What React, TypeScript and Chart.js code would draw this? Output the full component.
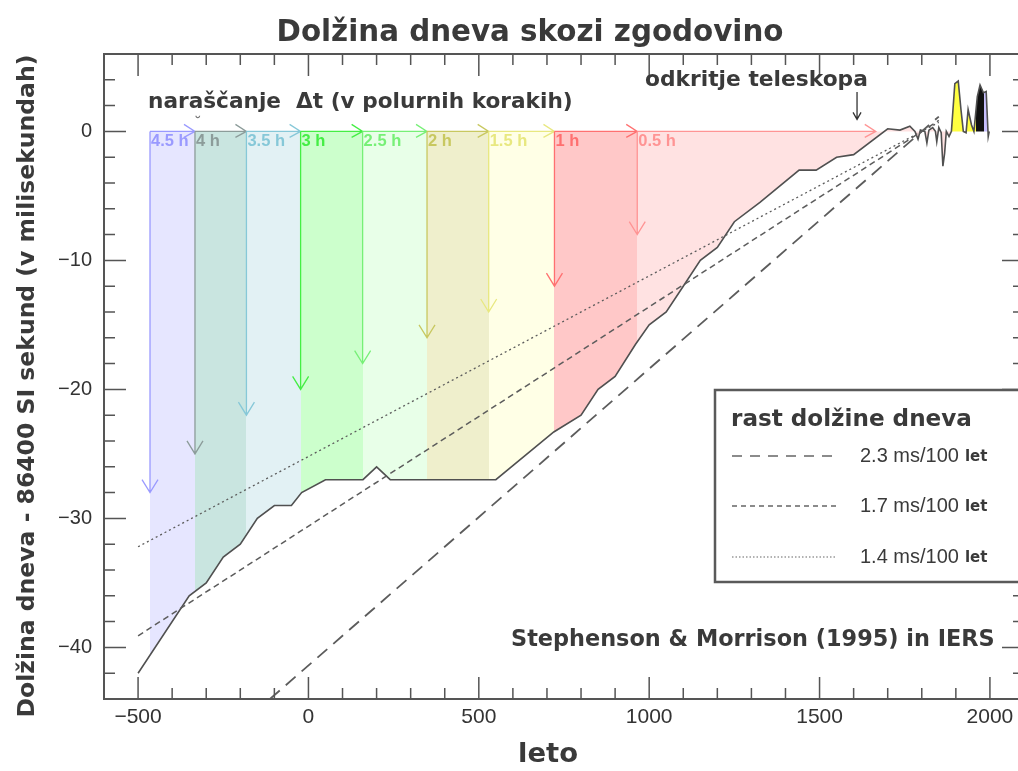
import React, { useEffect, useRef } from 'react';
import { Chart, registerables } from 'chart.js';

Chart.register(...registerables);

// ---------------- data ----------------
const curveYears = [-500, -350, -300, -250, -200, -150, -100, -50, -20, 50, 160, 200, 240, 550, 720, 800, 850, 900, 960, 1000, 1050, 1100, 1150, 1200, 1250, 1325, 1440, 1490, 1550, 1600, 1700, 1736, 1765, 1780, 1789, 1796, 1809, 1815, 1821, 1832, 1840, 1844, 1850, 1857, 1862, 1867, 1872, 1880, 1887, 1897, 1907, 1915, 1922, 1930, 1936, 1946, 1953, 1963, 1971, 1981, 1989, 1995, 1998];
const curveMs = [-42, -36, -35, -33, -32, -30, -29, -29, -28, -27, -27, -26, -27, -27, -23.3, -22, -20, -19, -16.5, -15, -14, -12, -10, -9, -7, -5.5, -3, -3, -2, -1.8, 0.2, 0.1, 0.4, 0, -0.6, 0.1, 0, -0.9, 0.1, 0.3, 0, -0.8, 0.3, -0.1, -2.7, -1.7, 0, -0.4, 0, 3.7, 3.9, 1.7, 0, -0.1, 1.7, 0.5, 0, 2.7, 3.6, 3.0, 3.1, -0.4, 0];

const bandLabels = ['4.5 h', '4 h', '3.5 h', '3 h', '2.5 h', '2 h', '1.5 h', '1 h', '0.5 h'];
const bandStarts = [-465, -333, -182, -23, 159, 348, 529, 722, 965];
const bandEnds = [-333, -182, -23, 159, 348, 529, 722, 965, 1665];
const bandArrowTips = [-28, -25, -22, -20, -18, -16, -14, -12, -8];

// recent-era fill segments (after the 0.5 h band)
const recentStarts = [1890, 1958, 1982];
const recentEnds = [1958, 1982, 2000];

const trend23Years = [-113, 1850];
const trend23Ms = [-44, 1.15];
const trend17Years = [-500, 1850];
const trend17Ms = [-39.1, 0.85];
const trend14Years = [-500, 1850];
const trend14Ms = [-32.2, 0.7];
const trendLabels = ['2.3 ms/100', '1.7 ms/100', '1.4 ms/100'];

const telescopeYear = 1610;

const xTickValues = [-500, 0, 500, 1000, 1500, 2000];
const xTickLabels = ['−500', '0', '500', '1000', '1500', '2000'];
const yTickValues = [0, -10, -20, -30, -40];
const yTickLabels = ['0', '−10', '−20', '−30', '−40'];

// ---------------- styles ----------------
const bandFill = ['#e6e6ff', '#c9e5e0', '#e2f1f4', '#ccffcc', '#e8ffe8', '#efefcc', '#ffffe6', '#ffc8c8', '#ffe2e2'];
const bandInk = ['#9a9aff', '#8c9c9a', '#86c8d8', '#44ee44', '#77f077', '#c8c860', '#e8e880', '#ff7070', '#ff9494'];
const recentFill = ['#ffff40', '#111111', '#c8c0ff'];

const COMIC = '"DejaVu Sans", sans-serif';
const HELV = '"Liberation Sans", Arial, sans-serif';
const INK = '#3a3a3a';
const LINE = '#555555';

function fitText(ctx: CanvasRenderingContext2D, text: string, x: number, y: number, width: number, weight: string, family: string, align: CanvasTextAlign = 'left') {
  ctx.font = `${weight} 40px ${family}`;
  const w = ctx.measureText(text).width;
  const size = (40 * width) / w;
  ctx.font = `${weight} ${size.toFixed(2)}px ${family}`;
  ctx.textAlign = align;
  ctx.textBaseline = 'middle';
  ctx.fillText(text, x, y);
}

function makeFill(chart: any) {
  const area = chart.chartArea;
  const xs = chart.scales?.x;
  if (!area || !xs) return 'rgba(0,0,0,0)';
  const g = chart.ctx.createLinearGradient(area.left, 0, area.right, 0);
  const w = area.right - area.left;
  const T = (yr: number) => Math.min(1, Math.max(0, (xs.getPixelForValue(yr) - area.left) / w));
  const starts = bandStarts.concat(recentStarts);
  const ends = bandStarts.slice(1).concat(recentStarts).concat([recentEnds[recentEnds.length - 1]]);
  const cols = bandFill.concat(recentFill);
  const clear = 'rgba(255,255,255,0)';
  g.addColorStop(0, clear);
  g.addColorStop(T(starts[0]), clear);
  for (let i = 0; i < starts.length; i++) {
    g.addColorStop(T(starts[i]), cols[i]);
    g.addColorStop(T(ends[i]), cols[i]);
  }
  g.addColorStop(T(ends[ends.length - 1]), clear);
  g.addColorStop(1, clear);
  return g;
}

const decoPlugin = {
  id: 'deco',
  beforeDraw(chart: any) {
    const ctx = chart.ctx;
    ctx.save();
    ctx.fillStyle = '#ffffff';
    ctx.fillRect(0, 0, chart.width, chart.height);
    ctx.restore();
  },
  afterDatasetsDraw(chart: any) {
    const ctx = chart.ctx as CanvasRenderingContext2D;
    const xs = chart.scales.x;
    const ys = chart.scales.y;
    const y0 = ys.getPixelForValue(0);
    ctx.save();
    for (let i = 0; i < bandStarts.length; i++) {
      const xa = xs.getPixelForValue(bandStarts[i]);
      const xb = xs.getPixelForValue(bandEnds[i]);
      const yt = ys.getPixelForValue(bandArrowTips[i]);
      ctx.strokeStyle = bandInk[i];
      ctx.lineWidth = 1.3;
      ctx.setLineDash([]);
      // top edge + right arrow
      ctx.beginPath();
      ctx.moveTo(xa, y0);
      ctx.lineTo(xb, y0);
      ctx.moveTo(xb - 11, y0 - 7);
      ctx.lineTo(xb, y0);
      ctx.lineTo(xb - 11, y0 + 6);
      ctx.stroke();
      // vertical arrow
      ctx.beginPath();
      ctx.moveTo(xa, y0);
      ctx.lineTo(xa, yt);
      ctx.moveTo(xa - 8, yt - 13);
      ctx.lineTo(xa, yt);
      ctx.lineTo(xa + 8, yt - 13);
      ctx.stroke();
      ctx.fillStyle = bandInk[i];
      ctx.font = `bold 16.5px ${HELV}`;
      ctx.textAlign = 'left';
      ctx.textBaseline = 'middle';
      ctx.fillText(bandLabels[i], xa + 1, y0 + 10);
    }
    ctx.fillStyle = '#777';
    ctx.font = `bold 14px ${HELV}`;
    ctx.textAlign = 'center';
    ctx.fillText('˘', xs.getPixelForValue(bandStarts[1]) + 3, y0 - 8);
    ctx.restore();
  },
  afterDraw(chart: any) {
    const ctx = chart.ctx as CanvasRenderingContext2D;
    const xs = chart.scales.x;
    const ys = chart.scales.y;
    const a = chart.chartArea;
    ctx.save();
    ctx.setLineDash([]);
    ctx.strokeStyle = LINE;
    ctx.lineWidth = 2;
    ctx.strokeRect(a.left, a.top, a.right - a.left, a.bottom - a.top);
    ctx.lineWidth = 1.5;
    ctx.beginPath();
    for (const t of xs.ticks) {
      const v = t.value;
      const len = v % 500 === 0 ? 22 : 11;
      const px = xs.getPixelForValue(v);
      ctx.moveTo(px, a.bottom);
      ctx.lineTo(px, a.bottom - len);
      ctx.moveTo(px, a.top);
      ctx.lineTo(px, a.top + len);
    }
    for (const t of ys.ticks) {
      const v = t.value;
      const len = v % 10 === 0 ? 22 : 11;
      const py = ys.getPixelForValue(v);
      ctx.moveTo(a.left, py);
      ctx.lineTo(a.left + len, py);
      ctx.moveTo(a.right, py);
      ctx.lineTo(a.right - len, py);
    }
    ctx.stroke();

    ctx.fillStyle = INK;
    fitText(ctx, 'Dolžina dneva skozi zgodovino', 530, 33, 507, 'bold', COMIC, 'center');
    fitText(ctx, 'leto', 548, 755, 60, 'bold', COMIC, 'center');
    ctx.save();
    ctx.translate(28, 386);
    ctx.rotate(-Math.PI / 2);
    fitText(ctx, 'Dolžina dneva - 86400 SI sekund (v milisekundah)', 0, 0, 663, 'bold', COMIC, 'center');
    ctx.restore();
    fitText(ctx, 'naraščanje  Δt (v polurnih korakih)', 148, 102, 425, 'bold', COMIC, 'left');
    fitText(ctx, 'odkritje teleskopa', 645, 80, 223, 'bold', COMIC, 'left');
    fitText(ctx, 'Stephenson & Morrison (1995) in IERS', 511, 640, 484, 'bold', COMIC, 'left');

    // telescope arrow
    const tx = xs.getPixelForValue(telescopeYear);
    const ty = ys.getPixelForValue(0) - 12;
    ctx.strokeStyle = '#333';
    ctx.lineWidth = 1.3;
    ctx.beginPath();
    ctx.moveTo(tx, 92);
    ctx.lineTo(tx, ty);
    ctx.moveTo(tx - 4, ty - 7);
    ctx.lineTo(tx, ty);
    ctx.lineTo(tx + 4, ty - 7);
    ctx.stroke();

    // legend box
    ctx.fillStyle = '#ffffff';
    ctx.fillRect(715, 390, 330, 192);
    ctx.strokeStyle = '#5a5a5a';
    ctx.lineWidth = 2.5;
    ctx.strokeRect(715, 390, 330, 192);
    ctx.fillStyle = INK;
    fitText(ctx, 'rast dolžine dneva', 731, 420, 241, 'bold', COMIC, 'left');
    const dashes = [[10, 8], [5, 4], [1.5, 2]];
    const widths = [1.6, 1.4, 1.2];
    const rows = [456, 506, 557];
    for (let i = 0; i < 3; i++) {
      ctx.strokeStyle = '#666';
      ctx.lineWidth = widths[i];
      ctx.setLineDash(dashes[i]);
      ctx.beginPath();
      ctx.moveTo(732, rows[i]);
      ctx.lineTo(837, rows[i]);
      ctx.stroke();
      ctx.setLineDash([]);
      ctx.fillStyle = INK;
      ctx.font = `20px ${HELV}`;
      ctx.textAlign = 'left';
      ctx.textBaseline = 'middle';
      ctx.fillText(trendLabels[i], 860, rows[i]);
      const w = ctx.measureText(trendLabels[i]).width;
      ctx.font = `bold 15px ${COMIC}`;
      ctx.fillText('let', 860 + w + 6, rows[i] + 1);
    }
    ctx.restore();
  },
};

export default function App() {
  const ref = useRef<HTMLCanvasElement | null>(null);
  useEffect(() => {
    const canvas = ref.current;
    if (!canvas) return;
    const toXY = (xsArr: number[], ysArr: number[]) => xsArr.map((x, i) => ({ x, y: ysArr[i] }));
    const chart = new Chart(canvas, {
      type: 'line',
      data: {
        datasets: [
          {
            label: '2.3',
            data: toXY(trend23Years, trend23Ms),
            borderColor: '#5c5c5c',
            borderWidth: 1.8,
            borderDash: [13, 8],
            pointRadius: 0,
            fill: false,
          },
          {
            label: '1.7',
            data: toXY(trend17Years, trend17Ms),
            borderColor: '#5c5c5c',
            borderWidth: 1.5,
            borderDash: [6, 4],
            pointRadius: 0,
            fill: false,
          },
          {
            label: '1.4',
            data: toXY(trend14Years, trend14Ms),
            borderColor: '#5c5c5c',
            borderWidth: 1.3,
            borderDash: [2, 3],
            pointRadius: 0,
            fill: false,
          },
          {
            label: 'LOD',
            data: toXY(curveYears, curveMs),
            borderColor: '#505050',
            borderWidth: 1.6,
            pointRadius: 0,
            tension: 0,
            fill: { value: 0 },
            backgroundColor: (c: any) => makeFill(c.chart),
          },
        ],
      },
      options: {
        animation: false,
        responsive: false,
        maintainAspectRatio: false,
        parsing: false,
        layout: { padding: { top: 54, right: 16, left: 0, bottom: 0 } },
        plugins: {
          legend: { display: false },
          tooltip: { enabled: false },
          title: { display: false },
          filler: { drawTime: 'beforeDatasetsDraw' },
        } as any,
        scales: {
          x: {
            type: 'linear',
            min: -600,
            max: 2100,
            grid: { display: false, drawTicks: false },
            border: { display: false },
            ticks: {
              stepSize: 100,
              autoSkip: false,
              maxRotation: 0,
              padding: 6,
              color: '#333',
              font: { family: HELV, size: 21 },
              callback: (v: any) => {
                const i = xTickValues.indexOf(Number(v));
                return i >= 0 ? xTickLabels[i] : '';
              },
            },
            afterFit: (s: any) => {
              s.height = 771 - 699;
            },
          },
          y: {
            type: 'linear',
            min: -44,
            max: 6,
            grid: { display: false, drawTicks: false },
            border: { display: false },
            ticks: {
              stepSize: 2,
              autoSkip: false,
              padding: 12,
              color: '#333',
              font: { family: HELV, size: 20 },
              callback: (v: any) => {
                const i = yTickValues.indexOf(Number(v));
                return i >= 0 ? yTickLabels[i] : '';
              },
            },
            afterFit: (s: any) => {
              s.width = 104;
            },
          },
        },
      } as any,
      plugins: [decoPlugin],
    });
    return () => chart.destroy();
  }, []);
  return (
    <div style={{ position: 'fixed', left: 0, top: 0, width: 1018, height: 771, overflow: 'hidden', background: '#fff' }}>
      <canvas ref={ref} width={1040} height={771} style={{ display: 'block', width: 1040, height: 771 }} />
    </div>
  );
}
